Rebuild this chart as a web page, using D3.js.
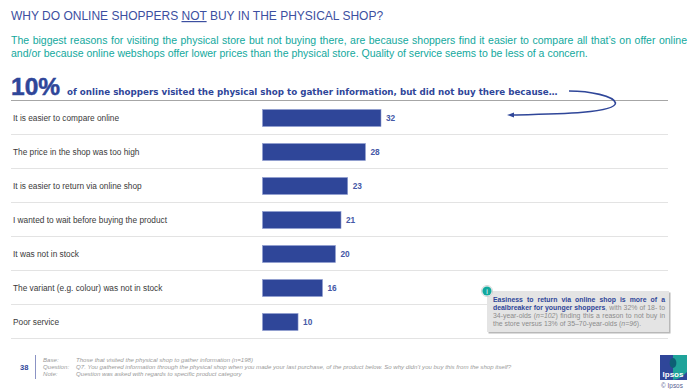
<!DOCTYPE html>
<html>
<head>
<meta charset="utf-8">
<script src="https://cdn.jsdelivr.net/npm/d3@7"></script>
<style>
html, body { margin: 0; padding: 0; background: #fff; }
svg { display: block; font-family: "Liberation Sans", Arial, sans-serif; }
</style>
</head>
<body>
<svg id="chart" width="700" height="389"></svg>
<script>
const categories = [
    "It is easier to compare online",
    "The price in the shop was too high",
    "It is easier to return via online shop",
    "I wanted to wait before buying the product",
    "It was not in stock",
    "The variant (e.g. colour) was not in stock",
    "Poor service"
];
const values = [32, 27.8, 23, 21.2, 19.7, 16.2, 9.6];
const introLines = [
    "The biggest reasons for visiting the physical store but not buying there, are because shoppers find it easier to compare all that\u2019s on offer online",
    "and/or because online webshops offer lower prices than the physical store. Quality of service seems to be less of a concern."
];
const footLabels = ["Base:", "Question:", "Note:"];
const footTexts = [
    "Those that visited the physical shop to gather information (n=198)",
    "Q7. You gathered information through the physical shop when you made your last purchase, of the product below. So why didn\u2019t you buy this from the shop itself?",
    "Question was asked with regards to specific product category"
];

const blue = "#2f4699";
const teal = "#12a89d";

const svg = d3.select("#chart");

// stretch the word gaps so a line fills the given width
function justify(sel, width) {
    const node = sel.node();
    const gaps = node.textContent.split(" ").length - 1;
    sel.style("word-spacing", `${(width - node.getComputedTextLength()) / gaps}px`);
}

// title
const title = svg.append("text").attr("x", 11).attr("y", 20)
    .style("font-size", "12px").style("fill", "#3c4fa0");
title.append("tspan").text("WHY DO ONLINE SHOPPERS ");
title.append("tspan").text("NOT").style("text-decoration", "underline");
title.append("tspan").text(" BUY IN THE PHYSICAL SHOP?");

svg.selectAll(".intro")
    .data(introLines)
    .enter().append("text")
    .attr("class", "intro")
    .attr("x", 11)
    .attr("y", (d, i) => 44 + i * 13.4)
    .style("font-size", "10.52px")
    .style("fill", teal)
    .text(d => d);
justify(svg.select(".intro"), 676);

// headline
svg.append("text").attr("x", 11).attr("y", 95)
    .style("font-size", "24.5px").style("font-weight", "bold")
    .style("stroke", blue).style("stroke-width", 0.5)
    .style("fill", blue).text("10%");
svg.append("text").attr("x", 67).attr("y", 94.5)
    .style("font-size", "8.72px").style("font-weight", "bold")
    .style("font-family", "'DejaVu Sans', sans-serif")
    .style("fill", blue)
    .text("of online shoppers visited the physical shop to gather information, but did not buy there because\u2026");

svg.append("line").attr("x1", 11).attr("x2", 668).attr("y1", 100.5).attr("y2", 100.5)
    .style("stroke", "#a6a6a6").style("stroke-width", 1.2);

// curved arrow
svg.append("path")
    .attr("d", "M569,91 C590,91 614,96 615.5,103 C615,113 560,114 514,115")
    .style("fill", "none").style("stroke", blue).style("stroke-width", 1.6);
svg.append("path")
    .attr("d", "M507,115 L514,112.5 L514,117.5 Z")
    .style("fill", blue);

// bars
const x = d3.scaleLinear().domain([0, 32]).range([262.5, 381]);
const y = d3.scaleBand().domain(categories).range([101, 339]).paddingInner(0.5).paddingOuter(0.25);

// row separators
svg.selectAll(".sep")
    .data(categories)
    .enter().append("line")
    .attr("class", "sep")
    .attr("x1", 11)
    .attr("x2", 668)
    .attr("y1", d => y(d) + y.bandwidth() + y.step() * 0.25 - 0.5)
    .attr("y2", d => y(d) + y.bandwidth() + y.step() * 0.25 - 0.5)
    .style("stroke", "#e3e3e3")
    .style("stroke-width", 1.1);

svg.selectAll(".bar")
    .data(values)
    .enter().append("rect")
    .attr("class", "bar")
    .attr("x", x(0))
    .attr("y", (d, i) => y(categories[i]))
    .attr("width", d => x(d) - x(0))
    .attr("height", y.bandwidth())
    .style("fill", blue)
    .style("stroke", "#8f9dd0")
    .style("stroke-width", 0.6);

svg.selectAll(".value")
    .data(values)
    .enter().append("text")
    .attr("class", "value")
    .attr("x", d => x(d) + 5)
    .attr("y", (d, i) => y(categories[i]) + y.bandwidth() / 2 + 3)
    .style("font-size", "8.3px")
    .style("font-weight", "bold")
    .style("fill", "#4558a6")
    .text(d => d3.format(".0f")(d));

svg.selectAll(".cat")
    .data(categories)
    .enter().append("text")
    .attr("class", "cat")
    .attr("x", 13)
    .attr("y", d => y(d) + y.bandwidth() / 2 + 3)
    .style("font-size", "8.3px")
    .style("fill", "#3a3a3a")
    .text(d => d);

// info box
svg.append("rect").attr("x", 488.5).attr("y", 292.5).attr("width", 182).attr("height", 41)
    .style("fill", "#9a9a9a").attr("opacity", 0.7);
svg.append("rect").attr("x", 487).attr("y", 291).attr("width", 182).attr("height", 41)
    .style("fill", "#e4e4e4");
const noteLines = [
    [["Easiness to return via online shop is more of a", true]],
    [["dealbreaker for younger shoppers", true], [", with 32% of 18- to", false]],
    [["34-year-olds (", false], ["n=102", false, true], [") finding this a reason to not buy in", false]],
    [["the store versus 13% of 35\u201370-year-olds (", false], ["n=96", false, true], [").", false]]
];
noteLines.forEach((parts, i) => {
    const t = svg.append("text").attr("x", 493).attr("y", 301.5 + i * 8.2)
        .style("font-size", "6.9px");
    parts.forEach(p => t.append("tspan").text(p[0])
        .style("font-weight", p[1] ? "bold" : "normal")
        .style("font-style", p[2] ? "italic" : "normal")
        .style("fill", p[1] ? blue : "#8c8c8c"));
    if (i < 3) justify(t, 172);
});
svg.append("circle").attr("cx", 487).attr("cy", 291).attr("r", 5.5).style("fill", "#fff").style("stroke", "#aaa").style("stroke-width", 0.5);
svg.append("circle").attr("cx", 487).attr("cy", 291).attr("r", 4.6).style("fill", teal);
svg.append("text").attr("x", 487).attr("y", 293.5).attr("text-anchor", "middle")
    .style("font-size", "7px").style("fill", "#fff").text("i");

// footer
svg.append("text").attr("x", 20).attr("y", 370)
    .style("font-size", "7.5px").style("font-weight", "bold").style("fill", blue).text("38");
svg.append("line").attr("x1", 35.5).attr("x2", 35.5).attr("y1", 355).attr("y2", 379)
    .style("stroke", "#8b93c4").style("stroke-width", 1);
footLabels.forEach((d, i) => {
    const yy = 361.5 + i * 7.3;
    svg.append("text").attr("x", 43).attr("y", yy)
        .style("font-size", "6.1px").style("font-style", "italic").style("fill", "#9a9a9a").text(d);
    svg.append("text").attr("x", 76).attr("y", yy)
        .style("font-size", "6.1px").style("font-style", "italic").style("fill", "#9a9a9a").text(footTexts[i]);
});

// logo
svg.append("rect").attr("x", 660).attr("y", 355).attr("width", 27).attr("height", 25).style("fill", "#2f4699");
svg.append("path").attr("d", "M673,355 L687,355 L687,372 C683,376 679,379 673,380 Z").style("fill", "#1fa39a");
svg.append("ellipse").attr("cx", 673).attr("cy", 363).attr("rx", 3.4).attr("ry", 5).style("fill", "#0d5f75");
svg.append("text").attr("x", 673).attr("y", 377).attr("text-anchor", "middle")
    .style("font-size", "8px").style("font-weight", "bold").style("fill", "#fff").text("Ipsos");
svg.append("text").attr("x", 672).attr("y", 388).attr("text-anchor", "middle")
    .style("font-size", "6.4px").style("fill", "#56608f").text("\u00a9 Ipsos");
</script>
</body>
</html>
